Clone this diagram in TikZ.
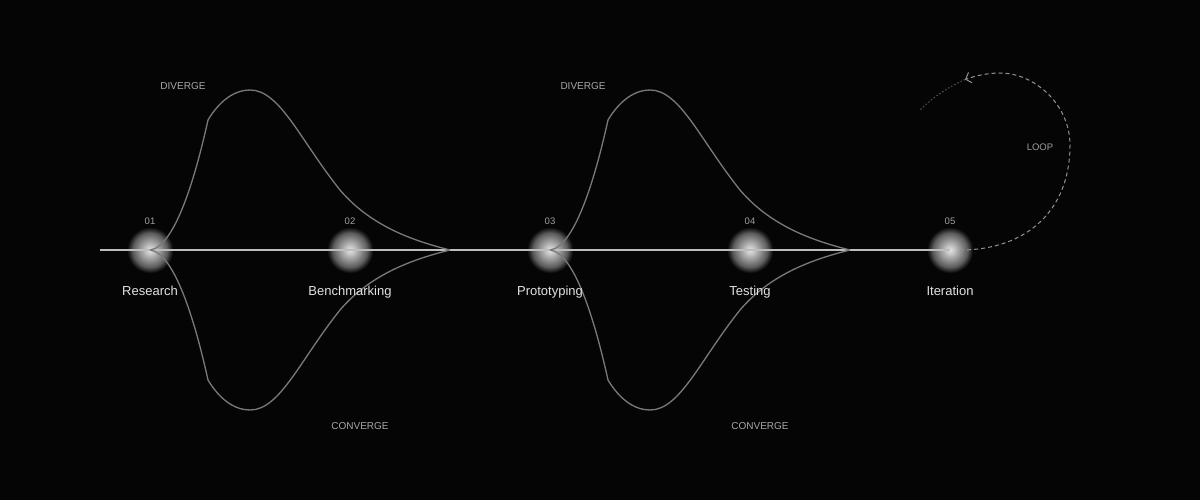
\documentclass[tikz,border=0pt]{standalone}
\usepackage{fontspec}
\setmainfont{Liberation Sans}
\usetikzlibrary{arrows.meta,fadings}
\definecolor{bg}{HTML}{050505}
\definecolor{axis}{HTML}{BDBDBD}
\definecolor{curve}{HTML}{7A7A7A}
\definecolor{numc}{HTML}{A0A0A0}
\definecolor{namec}{HTML}{E2E2E2}
\definecolor{phasec}{HTML}{A8A8A8}
\definecolor{loopc}{HTML}{929292}
\pgfdeclareradialshading{softdiskshade}{\pgfpointorigin}{color(0bp)=(transparent!10); color(6bp)=(transparent!28); color(13bp)=(transparent!50); color(18bp)=(transparent!66); color(21bp)=(transparent!84); color(24bp)=(transparent!100); color(50bp)=(transparent!100)}
\pgfdeclarefading{softdisk}{\pgfuseshading{softdiskshade}}
\tikzset{
  dot/.style={circle,minimum size=20pt,inner sep=0pt},
  numlbl/.style={text=numc,font=\fontsize{9.5}{11}\selectfont,inner sep=0pt,anchor=base},
  namelbl/.style={text=namec,font=\fontsize{13}{15}\selectfont,inner sep=0pt,anchor=base},
  phaselbl/.style={text=phasec,font=\fontsize{10}{12}\selectfont,inner sep=0pt,anchor=base},
  axisline/.style={draw=axis,line width=1.8pt},
  lensline/.style={draw=curve,line width=1.3pt},
  loopline/.style={draw=loopc,line width=1pt,dash pattern=on 4pt off 3pt},
  fadeline/.style={draw=loopc!55!bg,line width=1pt,dash pattern=on 1.5pt off 2pt},
}
\newcommand\glowdot[1]{%
  \fill[white,path fading=softdisk] (#1) circle (24pt);
}
\begin{document}
\begin{tikzpicture}[x=1pt,y=-1pt]
\fill[bg] (0,0) rectangle (1200,500);
\useasboundingbox (0,0) rectangle (1200,500);

% nodes
\node[dot] (d1) at (150,250) {};
\node[dot] (d2) at (350,250) {};
\node[dot] (d3) at (550,250) {};
\node[dot] (d4) at (750,250) {};
\node[dot] (d5) at (950,250) {};
\coordinate (s) at (100,250);
\coordinate (j1) at (450,250);
\coordinate (j2) at (850,250);

% dots
\glowdot{d1}\glowdot{d2}\glowdot{d3}\glowdot{d4}\glowdot{d5}

% axis
\draw[axisline] (s) -- (d5.center);

% lens 1
\draw[lensline] (d1.center) .. controls (176,247) and (197,170) .. (208,120)
  .. controls (220,100) and (235,90) .. (250,90)
  .. controls (280,90) and (300,140) .. (340,190)
  .. controls (370,225) and (410,240) .. (j1);
\draw[lensline] (d1.center) .. controls (176,253) and (197,330) .. (208,380)
  .. controls (220,400) and (235,410) .. (250,410)
  .. controls (280,410) and (300,360) .. (340,310)
  .. controls (370,275) and (410,260) .. (j1);
% lens 2
\draw[lensline] (d3.center) .. controls (576,247) and (597,170) .. (608,120)
  .. controls (620,100) and (635,90) .. (650,90)
  .. controls (680,90) and (700,140) .. (740,190)
  .. controls (770,225) and (810,240) .. (j2);
\draw[lensline] (d3.center) .. controls (576,253) and (597,330) .. (608,380)
  .. controls (620,400) and (635,410) .. (650,410)
  .. controls (680,410) and (700,360) .. (740,310)
  .. controls (770,275) and (810,260) .. (j2);

% loop
\coordinate (la) at (965,79.5);
\coordinate (lb) at (920,110);
\draw[loopline,-{Straight Barb[length=5pt,width=11pt,line width=1pt]}] (d5.east) .. controls (1025,250) and (1070,212) .. (1070,145)
  .. controls (1070,105) and (1035,73) .. (1000,73)
  .. controls (987,73) and (975,76) .. (la);
\draw[fadeline] (la) .. controls (948,87) and (932,98) .. (lb);

% labels
\node[numlbl] (n1) at (150,225) {01};
\node[numlbl] (n2) at (350,225) {02};
\node[numlbl] (n3) at (550,225) {03};
\node[numlbl] (n4) at (750,225) {04};
\node[numlbl] (n5) at (950,225) {05};
\node[namelbl] (t1) at (150,295) {Research};
\node[namelbl] (t2) at (350,295) {Benchmarking};
\node[namelbl] (t3) at (550,295) {Prototyping};
\node[namelbl] (t4) at (750,295) {Testing};
\node[namelbl] (t5) at (950,295) {Iteration};
\node[phaselbl] (dv1) at (183,89.6) {DIVERGE};
\node[phaselbl] (dv2) at (583,89.6) {DIVERGE};
\node[phaselbl] (cv1) at (360,429.6) {CONVERGE};
\node[phaselbl] (cv2) at (760,429.6) {CONVERGE};
\node[numlbl,text=loopc!90!white] (lp) at (1040,150) {LOOP};
\end{tikzpicture}
\end{document}
